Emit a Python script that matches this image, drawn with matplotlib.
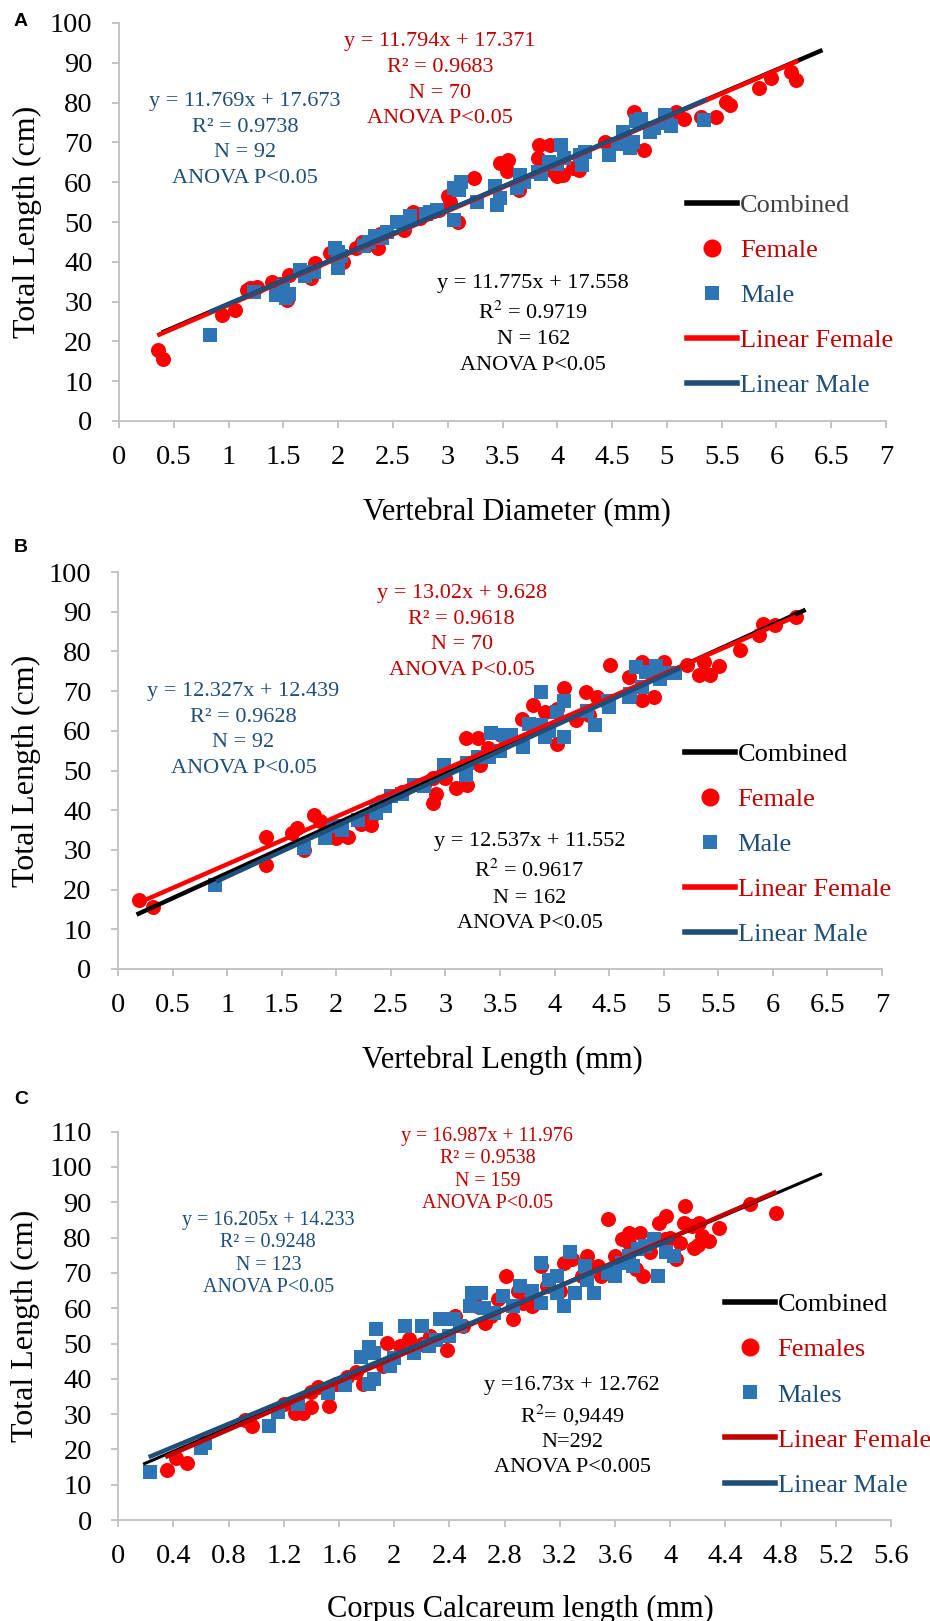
# Total length vs vertebral measurements (three panels A, B, C)
import matplotlib
matplotlib.use("Agg")
import matplotlib.pyplot as plt
from matplotlib.lines import Line2D
from matplotlib.ticker import FuncFormatter
import numpy as np

plt.rcParams['font.family'] = ['Liberation Serif', 'DejaVu Serif']
plt.rcParams['mathtext.fontset'] = 'stix'

# ---------------- data ----------------
# Panel A: vertebral diameter (mm) vs total length (cm)
a_fem_x = [0.36, 0.40, 0.94, 1.06, 1.17, 1.20, 1.26, 1.40, 1.47, 1.53, 1.55, 1.75, 1.79, 1.93, 2.04,
           2.16, 2.22, 2.34, 2.36, 2.38, 2.60, 2.68, 2.75, 2.92, 3.00, 3.02, 3.09, 3.24, 3.48, 3.54,
           3.55, 3.65, 3.82, 3.83, 3.93, 3.96, 4.00, 4.05, 4.14, 4.20, 4.44, 4.70, 4.79, 4.99, 5.08,
           5.16, 5.31, 5.45, 5.54, 5.58, 5.84, 5.95, 6.13, 6.18]
a_fem_y = [17.8, 15.7, 26.6, 27.9, 32.9, 33.5, 33.7, 35.0, 34.5, 30.4, 36.7, 35.9, 39.7, 42.2, 40.0,
           43.5, 45.0, 44.2, 43.4, 47.0, 48.0, 52.6, 51.0, 53.0, 56.5, 55.0, 50.0, 61.0, 64.7, 62.7,
           65.5, 58.0, 66.0, 69.3, 69.3, 62.7, 61.5, 61.8, 63.6, 63.0, 70.2, 77.7, 68.1, 75.3, 77.7,
           76.0, 76.4, 76.4, 80.2, 79.4, 83.6, 86.1, 87.8, 85.7]
a_male_x = [0.83, 1.23, 1.43, 1.50, 1.52, 1.55, 1.65, 1.70, 1.78, 1.97, 2.00, 2.00, 2.03, 2.24, 2.28,
            2.34, 2.40, 2.45, 2.54, 2.60, 2.66, 2.80, 2.84, 2.90, 3.06, 3.06, 3.10, 3.12, 3.27, 3.43,
            3.45, 3.48, 3.63, 3.66, 3.70, 3.82, 3.85, 3.92, 4.00, 4.03, 4.06, 4.21, 4.23, 4.25, 4.47,
            4.55, 4.60, 4.62, 4.66, 4.69, 4.72, 4.76, 4.85, 4.88, 4.98, 5.00, 5.04, 5.34]
a_male_y = [21.6, 32.5, 31.7, 33.8, 30.9, 32.0, 38.0, 36.5, 37.5, 43.5, 38.5, 42.5, 41.5, 44.0, 45.0,
            46.5, 46.0, 47.5, 50.0, 49.5, 51.5, 52.0, 52.6, 53.0, 58.5, 50.5, 58.0, 60.0, 55.0, 59.0,
            54.3, 56.0, 58.5, 61.7, 60.0, 62.6, 62.0, 65.0, 64.5, 69.3, 66.0, 66.8, 64.4, 67.5, 66.8,
            69.7, 72.5, 71.0, 68.5, 70.2, 75.5, 76.0, 72.7, 73.5, 76.9, 75.0, 74.0, 75.6]

# Panel B: vertebral length (mm) vs total length (cm)
b_fem_x = [0.19, 0.32, 1.36, 1.36, 1.59, 1.64, 1.70, 1.80, 1.85, 2.00, 2.11, 2.23, 2.32, 2.32, 2.40,
           2.60, 2.80, 2.89, 2.91, 2.89, 3.00, 3.10, 3.20, 3.19, 3.30, 3.32, 3.39, 3.51, 3.70, 3.80,
           3.91, 4.02, 4.02, 4.09, 4.20, 4.29, 4.39, 4.32, 4.51, 4.68, 4.80, 4.80, 4.91, 5.00, 5.21,
           5.32, 5.42, 5.37, 5.51, 5.70, 5.87, 5.91, 6.02, 6.21]
b_fem_y = [17.4, 15.7, 26.2, 33.3, 34.2, 35.5, 30.0, 38.8, 37.3, 33.0, 33.3, 36.5, 38.0, 36.3, 42.1,
           44.7, 46.3, 48.0, 44.2, 41.7, 48.0, 45.5, 46.3, 58.1, 58.1, 51.4, 55.6, 58.9, 63.0, 66.5,
           64.8, 65.6, 56.8, 70.7, 62.7, 69.8, 68.6, 64.0, 76.6, 73.6, 77.4, 67.8, 68.6, 77.4, 76.6,
           74.0, 74.0, 77.4, 76.3, 80.3, 84.1, 87.0, 86.6, 88.7]
b_male_x = [0.89, 1.70, 1.90, 1.97, 2.05, 2.20, 2.36, 2.36, 2.45, 2.50, 2.60, 2.71, 2.80, 2.99, 3.20,
            3.19, 3.30, 3.42, 3.40, 3.50, 3.55, 3.60, 3.71, 3.77, 3.88, 3.91, 3.95, 4.02, 3.88, 4.09,
            4.09, 4.30, 4.37, 4.49, 4.50, 4.68, 4.69, 4.75, 4.80, 4.84, 4.93, 4.97, 5.02, 5.10]
b_male_y = [21.2, 30.4, 33.0, 36.0, 35.0, 37.5, 40.8, 39.4, 41.0, 43.7, 44.0, 46.3, 46.0, 51.4, 52.0,
            48.9, 53.3, 59.5, 53.5, 55.0, 58.9, 59.0, 56.0, 61.8, 61.4, 58.5, 60.0, 64.8, 69.8, 67.4,
            58.5, 65.0, 61.4, 67.4, 66.0, 68.6, 69.3, 76.0, 71.0, 74.7, 76.3, 73.0, 74.5, 74.5]

# Panel C: corpus calcareum length (mm) vs total length (cm)
c_fem_x = [0.35, 0.42, 0.50, 0.92, 0.97, 1.20, 1.28, 1.34, 1.40, 1.40, 1.45, 1.53, 1.58, 1.66, 1.72,
           1.77, 1.95, 1.92, 2.04, 2.11, 2.20, 2.26, 2.38, 2.44, 2.50, 2.60, 2.66, 2.70, 2.75, 2.81,
           2.86, 2.90, 2.93, 3.00, 3.06, 3.11, 3.20, 3.23, 3.29, 3.36, 3.40, 3.48, 3.50, 3.55, 3.60,
           3.65, 3.70, 3.70, 3.78, 3.75, 3.80, 3.85, 3.92, 3.97, 3.96, 4.00, 4.04, 4.07, 4.11, 4.10,
           4.17, 4.16, 4.20, 4.21, 4.23, 4.28, 4.35, 4.58, 4.77]
c_fem_y = [14.2, 17.5, 16.1, 28.4, 26.5, 33.0, 30.2, 30.2, 32.0, 36.3, 37.7, 32.2, 38.6, 40.5, 42.0,
           38.6, 50.2, 43.7, 49.2, 51.2, 50.0, 52.0, 48.3, 57.8, 55.0, 60.6, 55.8, 57.8, 62.5, 69.1,
           56.8, 65.0, 61.5, 60.6, 71.9, 66.3, 65.0, 72.9, 73.9, 69.1, 74.8, 72.0, 69.0, 85.2, 74.8,
           79.5, 81.4, 78.6, 81.4, 71.0, 69.0, 76.0, 84.2, 86.1, 79.5, 80.0, 73.9, 78.6, 89.0, 84.2,
           77.1, 83.2, 78.0, 84.2, 80.5, 79.0, 82.8, 89.5, 87.1]
c_male_x = [0.23, 0.60, 0.63, 1.09, 1.16, 1.30, 1.52, 1.64, 1.82, 1.76, 1.82, 1.87, 1.85, 1.85, 1.97,
            2.00, 2.08, 2.14, 2.20, 2.25, 2.30, 2.33, 2.40, 2.43, 2.48, 2.55, 2.56, 2.63, 2.65, 2.72,
            2.79, 2.86, 2.91, 3.00, 3.06, 3.06, 3.12, 3.18, 3.18, 3.23, 3.27, 3.31, 3.38, 3.40, 3.45,
            3.55, 3.60, 3.65, 3.70, 3.77, 3.73, 3.82, 3.88, 3.91, 3.97, 4.03]
c_male_y = [13.7, 20.4, 21.7, 26.5, 30.7, 33.0, 36.0, 38.2, 38.6, 46.2, 49.0, 54.0, 47.3, 40.0, 43.7,
            46.0, 54.9, 47.4, 54.9, 49.2, 51.0, 56.8, 52.0, 56.8, 54.9, 60.6, 64.4, 64.4, 60.0, 58.7,
            63.4, 60.6, 66.3, 65.0, 72.9, 61.5, 68.0, 64.4, 69.1, 60.6, 75.8, 64.4, 72.0, 68.0, 64.4,
            70.0, 69.0, 72.9, 74.8, 76.7, 72.0, 77.6, 79.5, 69.1, 75.8, 74.8]

# trendlines as drawn (start / end points)
a_comb_line = ([0.39, 6.42], [22.2, 93.2])
a_fem_line = ([0.35, 6.20], [21.5, 90.5])
a_male_line = ([0.82, 5.36], [27.3, 80.8])
b_comb_line = ([0.17, 6.30], [13.7, 90.5])
b_fem_line = ([0.20, 6.21], [16.8, 88.8])
b_male_line = ([0.90, 5.15], [22.0, 75.8])
c_comb_line = ([0.18, 5.10], [15.8, 98.1])
c_fem_line = ([0.34, 4.77], [17.8, 93.0])
c_male_line = ([0.22, 4.03], [17.8, 79.8])

a_text_fem = "y = 11.794x + 17.371\nR² = 0.9683\nN = 70\nANOVA P<0.05"
a_text_male = "y = 11.769x + 17.673\nR² = 0.9738\nN = 92\nANOVA P<0.05"
a_text_comb = "y = 11.775x + 17.558\nR$^2$ = 0.9719\nN = 162\nANOVA P<0.05"
b_text_fem = "y = 13.02x + 9.628\nR² = 0.9618\nN = 70\nANOVA P<0.05"
b_text_male = "y = 12.327x + 12.439\nR² = 0.9628\nN = 92\nANOVA P<0.05"
b_text_comb = "y = 12.537x + 11.552\nR$^2$ = 0.9617\nN = 162\nANOVA P<0.05"
c_text_fem = "y = 16.987x + 11.976\nR² = 0.9538\nN = 159\nANOVA P<0.05"
c_text_male = "y = 16.205x + 14.233\nR² = 0.9248\nN = 123\nANOVA P<0.05"
c_text_comb = "y =16.73x + 12.762\nR$^2$= 0,9449\nN=292\nANOVA P<0.005"

RED = '#FF0000'
DARKRED = '#C00000'
BLUE = '#2E75B6'
NAVY = '#1F4E79'
GRID = '#BFBFBF'
W, H = 930, 1621


def make_axes(left, right, bottom, top):
    # pixel box -> figure fraction
    return fig.add_axes([left / W, 1 - bottom / H, (right - left) / W, (bottom - top) / H])


def style_axes(ax, xmax, xstep, ymax, xlabel, xlab_x):
    ax.set_xlim(0, xmax)
    ax.set_ylim(0, ymax)
    ax.set_xticks(np.arange(0, xmax + 1e-9, xstep))
    ax.set_yticks(np.arange(0, ymax + 1e-9, 10))
    ax.xaxis.set_major_formatter(FuncFormatter(lambda v, p: '%g' % round(v, 2)))
    for s in ['top', 'right']:
        ax.spines[s].set_visible(False)
    for s in ['left', 'bottom']:
        ax.spines[s].set_color(GRID)
        ax.spines[s].set_linewidth(1.3)
    ax.tick_params(axis='both', direction='out', color=GRID, width=1.3, length=5, labelsize=20.5)
    ax.tick_params(axis='y', pad=14)
    ax.tick_params(axis='x', pad=12)
    ax.set_xlabel(xlabel, fontsize=22)
    ax.xaxis.set_label_coords(xlab_x, -0.23)
    ax.xaxis.label.set_va('center')
    ax.set_ylabel('Total Length (cm)', fontsize=23)
    ax.yaxis.set_label_coords(-0.12, 0.5)
    ax.yaxis.label.set_va('center')


def draw_panel(ax, fx, fy, mx, my, lines, comb_lw, fem_line_color):
    ax.plot(fx, fy, 'o', color=RED, markersize=10.8, markeredgewidth=0, zorder=2)
    ax.plot(mx, my, 's', color=BLUE, markersize=9.5, markeredgewidth=0, zorder=2)
    for (lx, ly), col, lw in zip(lines, ['black', fem_line_color, NAVY], [comb_lw, 3.2, 3.2]):
        ax.plot(lx, ly, '-', color=col, lw=lw, solid_capstyle='butt', zorder=3)


def add_legend(ax, x, y, labels, comb_col, fem_line_color):
    handles = [Line2D([], [], color='black', lw=4),
               Line2D([], [], marker='o', ls='', color=RED, markersize=13, markeredgewidth=0),
               Line2D([], [], marker='s', ls='', color=BLUE, markersize=10, markeredgewidth=0),
               Line2D([], [], color=fem_line_color, lw=4),
               Line2D([], [], color=NAVY, lw=4)]
    ax.legend(handles, labels, loc='upper left', bbox_to_anchor=(x, y), frameon=False,
              fontsize=19, handlelength=1.9, handletextpad=0.1, labelspacing=0.82,
              borderpad=0, borderaxespad=0,
              labelcolor=[comb_col, DARKRED, NAVY, DARKRED, NAVY])


def add_text(ax, x, y, s, color, size, ls):
    ax.text(x, y, s, color=color, fontsize=size, ha='center', va='center',
            multialignment='center', linespacing=ls, zorder=4)


fig = plt.figure(figsize=(W / 100, H / 100), dpi=100)

# ---- panel A ----
axA = make_axes(119, 886, 421, 23)
draw_panel(axA, a_fem_x, a_fem_y, a_male_x, a_male_y, [a_comb_line, a_fem_line, a_male_line], 3.2, RED)
style_axes(axA, 7, 0.5, 100, 'Vertebral Diameter (mm)', 0.519)
add_text(axA, 2.93, 85.6, a_text_fem, DARKRED, 16, 1.48)
add_text(axA, 1.15, 70.6, a_text_male, NAVY, 16, 1.48)
add_text(axA, 3.78, 24.2, a_text_comb, 'black', 16, 1.48)
add_legend(axA, 0.741, 0.572, ['Combined', 'Female', 'Male', 'Linear Female', 'Linear Male'], '#404040', RED)

# ---- panel B ----
axB = make_axes(118, 882, 969, 572)
draw_panel(axB, b_fem_x, b_fem_y, b_male_x, b_male_y, [b_comb_line, b_fem_line, b_male_line], 3.2, RED)
style_axes(axB, 7, 0.5, 100, 'Vertebral Length (mm)', 0.503)
add_text(axB, 3.15, 84.9, b_text_fem, DARKRED, 16, 1.48)
add_text(axB, 1.15, 60.2, b_text_male, NAVY, 16, 1.48)
add_text(axB, 3.77, 21.7, b_text_comb, 'black', 16, 1.48)
add_legend(axB, 0.742, 0.571, ['Combined', 'Female', 'Male', 'Linear Female', 'Linear Male'], 'black', RED)

# ---- panel C ----
axC = make_axes(118.3, 891, 1520, 1131.7)
draw_panel(axC, c_fem_x, c_fem_y, c_male_x, c_male_y, [c_comb_line, c_fem_line, c_male_line], 2.2, DARKRED)
style_axes(axC, 5.6, 0.4, 110, 'Corpus Calcareum length (mm)', 0.52)
add_text(axC, 2.675, 99.2, c_text_fem, DARKRED, 14.4, 1.25)
add_text(axC, 1.087, 75.4, c_text_male, NAVY, 14.4, 1.25)
add_text(axC, 3.29, 26.5, c_text_comb, 'black', 16, 1.4)
add_legend(axC, 0.785, 0.585, ['Combined', 'Females', 'Males', 'Linear Female', 'Linear Male'], 'black', DARKRED)

for letter, py in [('A', 22), ('B', 547), ('C', 1099)]:
    fig.text(21 / W, 1 - py / H, letter, fontsize=14, fontweight='bold',
             family='Liberation Sans', ha='center', va='center')

fig.savefig('out.png', dpi=100)
